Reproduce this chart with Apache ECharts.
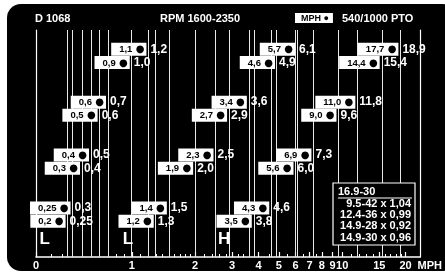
<!DOCTYPE html>
<html>
<head>
<meta charset="utf-8">
<script src="https://cdn.jsdelivr.net/npm/echarts@6/dist/echarts.min.js"></script>
<style>
  html, body { margin: 0; padding: 0; background: #fff; }
  #wrap { position: relative; width: 445px; height: 274px; overflow: hidden; }
  #panel { position: absolute; left: 7px; top: 4px; width: 450px; height: 267px; background: #000; border-radius: 14px; }
  #chart { position: absolute; left: 0; top: 0; width: 445px; height: 274px; }
</style>
</head>
<body>
<div id="wrap"><div id="panel"></div><div id="chart"></div></div>
<script>
// boxed speed (MPH) and the speed beside it (540/1000 PTO), per gear
const boxSpeeds = [1.1, 0.9, 0.6, 0.5, 0.4, 0.3, 0.25, 0.2,
                   5.7, 4.6, 3.4, 2.7, 2.3, 1.9, 1.4, 1.2,
                   17.7, 14.4, 11.0, 9.0, 6.9, 5.6, 4.3, 3.5];
const ptoSpeeds = [1.2, 1.0, 0.7, 0.6, 0.5, 0.4, 0.3, 0.25,
                   6.1, 4.9, 3.6, 2.9, 2.5, 2.0, 1.5, 1.3,
                   18.9, 15.4, 11.8, 9.6, 7.3, 6.0, 4.6, 3.8];
const gearRows = [0, 1, 4, 5, 8, 9, 12, 13,
                  0, 1, 4, 5, 8, 9, 12, 13,
                  0, 1, 4, 5, 8, 9, 12, 13];

const rangeNames = ['L', 'L', 'H'];
const rangeSpeeds = [0.05, 0.95, 2.75];
const rangeRow = 14.33;

const tickSpeeds = [0, 1, 2, 3, 4, 5, 6, 7, 8, 9, 10, 15, 20];
const minorSpeeds = [0.1, 0.2, 0.3, 0.4, 0.5, 0.6, 0.7, 0.8, 0.9,
                     1.1, 1.2, 1.3, 1.4, 1.5, 1.6, 1.7, 1.8, 1.9,
                     2.2, 2.4, 2.6, 2.8, 3.2, 3.4, 3.6, 3.8, 4.5, 5.5, 6.5, 7.5,
                     11, 12, 13, 14, 16, 17, 18, 19];

const tireBase = '16.9-30';
const tireSizes = ['9.5-42', '12.4-36', '14.9-28', '14.9-30'];
const tireFactors = [1.04, 0.99, 0.92, 0.96];

const FONT = '"Liberation Sans", Arial, sans-serif';

// speed axis: stretched below 1 mph, log2 above
const LOW_SPAN = 96 / 63.5;
function toAxis(mph) {
  return mph < 1 ? LOW_SPAN * Math.pow(mph, 0.8) : LOW_SPAN + Math.log2(mph);
}
function fromAxis(u) {
  return u < LOW_SPAN ? Math.pow(u / LOW_SPAN, 1 / 0.8) : Math.pow(2, u - LOW_SPAN);
}
function fmt(v) {
  return (Number.isInteger(v) ? v.toFixed(1) : String(v)).replace('.', ',');
}

const gearData = boxSpeeds.map((b, i) => [toAxis(ptoSpeeds[i]), gearRows[i], b, ptoSpeeds[i]]);

const chart = echarts.init(document.getElementById('chart'), null, { renderer: 'canvas' });

const hidden = { color: 'rgba(0,0,0,0)', opacity: 1 };

const option = {
  animation: false,
  backgroundColor: 'transparent',
  title: [
    { text: 'D 1068', left: 35, top: 13, padding: 0,
      textStyle: { color: '#fff', fontSize: 11, fontWeight: 'bold', fontFamily: FONT } },
    { text: 'RPM 1600-2350', left: 160, top: 13, padding: 0,
      textStyle: { color: '#fff', fontSize: 11, fontWeight: 'bold', fontFamily: FONT } },
    { text: 'MPH ●', left: 295, top: 13, padding: [1, 4, 0, 6], backgroundColor: '#fff',
      textStyle: { color: '#000', fontSize: 9, fontWeight: 'bold', fontFamily: FONT } },
    { text: '540/1000 PTO', left: 342, top: 13, padding: 0,
      textStyle: { color: '#fff', fontSize: 11, fontWeight: 'bold', fontFamily: FONT } }
  ],
  grid: { left: 36, right: 24, top: 30, bottom: 17 },
  xAxis: [
    {
      type: 'value', position: 'bottom', min: 0, max: 6.063,
      splitLine: { show: false },
      axisLine: { onZero: false, lineStyle: { color: '#fff', width: 1.5 } },
      axisTick: { inside: true, length: 5, lineStyle: { color: '#fff', width: 1.2 },
        customValues: tickSpeeds.map(toAxis) },
      axisLabel: {
        customValues: tickSpeeds.map(toAxis),
        color: '#fff', fontSize: 11, fontWeight: 'bold', fontFamily: FONT, margin: 3,
        formatter: u => String(Math.round(fromAxis(u)))
      },
      name: 'MPH', nameLocation: 'end', nameGap: -13,
      nameTextStyle: { color: '#fff', fontSize: 11, fontWeight: 'bold', fontFamily: FONT,
        verticalAlign: 'top', padding: [3, 0, 0, 0] }
    },
    {
      type: 'value', position: 'bottom', min: 0, max: 6.063,
      splitLine: { show: false },
      axisLine: { show: false, onZero: false },
      axisLabel: { show: false },
      axisTick: { inside: true, length: 3, lineStyle: { color: '#fff', width: 1 },
        customValues: minorSpeeds.map(toAxis) }
    }
  ],
  yAxis: [
    { type: 'value', position: 'left', inverse: true, min: -1.45, max: 15.7,
      splitLine: { show: false }, axisTick: { show: false }, axisLabel: { show: false },
      axisLine: { show: true, onZero: false, lineStyle: { color: '#fff', width: 1.2 } } },
    { type: 'value', position: 'right', inverse: true, min: -1.45, max: 15.7,
      splitLine: { show: false }, axisTick: { show: false }, axisLabel: { show: false },
      axisLine: { show: true, onZero: false, lineStyle: { color: '#fff', width: 1.2 } } }
  ],
  series: [
    {
      // speed lines down to the axis
      type: 'line', data: [], silent: true, z: 1,
      markLine: {
        z: 1, silent: true, symbol: ['none', 'none'], label: { show: false },
        lineStyle: { color: '#e8e8e8', type: 'solid', width: 1 },
        data: ptoSpeeds.map(v => ({ xAxis: toAxis(v) }))
      }
    },
    {
      type: 'scatter', data: gearData, symbolSize: 1, z: 10, silent: true,
      itemStyle: hidden,
      label: {
        show: true, position: 'left', distance: 1.5,
        backgroundColor: '#fff', padding: [1, 2, 0, 8],
        formatter: p => '{n|' + fmt(p.value[2]) + '} {d|●}',
        rich: {
          n: { color: '#000', fontSize: 9.5, fontWeight: 'bold', fontFamily: FONT, lineHeight: 12 },
          d: { color: '#000', fontSize: 10, fontFamily: '"DejaVu Sans", sans-serif', lineHeight: 12 }
        }
      }
    },
    {
      type: 'scatter', data: gearData, symbolSize: 1, z: 10, silent: true,
      itemStyle: hidden,
      label: {
        show: true, position: 'right', distance: 1.5,
        formatter: p => fmt(p.value[3]),
        color: '#fff', fontSize: 12, fontWeight: 'bold', fontFamily: FONT
      }
    },
    {
      type: 'scatter', symbolSize: 1, z: 10, silent: true,
      itemStyle: hidden,
      data: rangeSpeeds.map((v, i) => ({ value: [toAxis(v), rangeRow], name: rangeNames[i] })),
      label: {
        show: true, position: 'inside', formatter: p => p.name,
        color: '#fff', fontSize: 17, fontWeight: 'bold', fontFamily: FONT
      }
    }
  ],
  graphic: [
    { type: 'rect', z: 100, shape: { x: 333, y: 183, width: 82, height: 62 },
      style: { fill: '#000', stroke: '#fff', lineWidth: 1.2 } },
    { type: 'text', z: 101, x: 338, y: 186,
      style: { text: tireBase, fill: '#fff', font: 'bold 11px ' + FONT } },
    { type: 'line', z: 101, shape: { x1: 338, y1: 198, x2: 412, y2: 198 },
      style: { stroke: '#fff', lineWidth: 1.2 } },
    { type: 'text', z: 101, x: 411, y: 198,
      style: {
        text: tireSizes.map((s, i) => s + ' x ' + tireFactors[i].toFixed(2).replace('.', ',')).join('\n'),
        fill: '#fff', font: 'bold 11px ' + FONT, align: 'right', lineHeight: 11.3
      } }
  ]
};

chart.setOption(option);
</script>
</body>
</html>
